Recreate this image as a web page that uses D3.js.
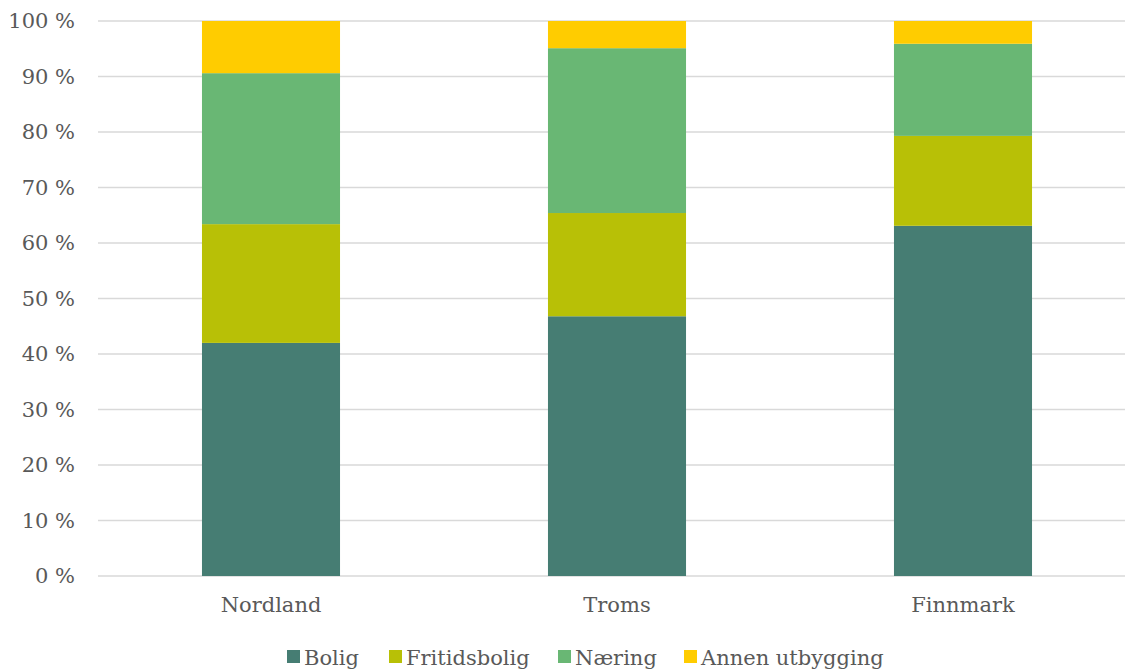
<!DOCTYPE html>
<html>
<head>
<meta charset="utf-8">
<script src="https://cdn.jsdelivr.net/npm/d3@7"></script>
<style>
  body { margin: 0; background: #fff; }
  text { font-family: "DejaVu Serif", Georgia, serif; fill: #595959; }
</style>
</head>
<body>
<svg id="chart" width="1125" height="672"></svg>
<script>
const regions = ["Nordland", "Troms", "Finnmark"];
const series = ["Bolig", "Fritidsbolig", "Næring", "Annen utbygging"];
const bolig = [42.0, 46.8, 63.1];
const fritidsbolig = [21.4, 18.6, 16.2];
const naering = [27.2, 29.7, 16.6];
const annen = [9.4, 4.9, 4.1];
const colors = ["#467d73", "#b8c006", "#69b774", "#ffcc00"];
const yTicks = [0, 10, 20, 30, 40, 50, 60, 70, 80, 90, 100];

const rows = regions.map((r, i) => ({
  region: r,
  "Bolig": bolig[i],
  "Fritidsbolig": fritidsbolig[i],
  "Næring": naering[i],
  "Annen utbygging": annen[i]
}));

const svg = d3.select("#chart");
const plotLeft = 98, plotRight = 1136, plotTop = 21, plotBottom = 576;

const x = d3.scaleBand()
  .domain(regions)
  .range([plotLeft, plotRight])
  .paddingInner(0.601)
  .paddingOuter(0.3005);

const y = d3.scaleLinear()
  .domain([0, 100])
  .range([plotBottom, plotTop]);

// gridlines
svg.append("g")
  .selectAll("line")
  .data(yTicks)
  .join("line")
  .attr("x1", plotLeft)
  .attr("x2", plotRight)
  .attr("y1", d => y(d))
  .attr("y2", d => y(d))
  .attr("stroke", "#d9d9d9")
  .attr("stroke-width", 1.5);

// y labels
svg.append("g")
  .selectAll("text")
  .data(yTicks)
  .join("text")
  .attr("x", 75)
  .attr("y", d => y(d))
  .attr("dy", "0.35em")
  .attr("text-anchor", "end")
  .attr("font-size", 21)
  .text(d => d + " %");

const stack = d3.stack().keys(series)(rows);

svg.append("g")
  .selectAll("g")
  .data(stack)
  .join("g")
  .attr("fill", (d, i) => colors[i])
  .selectAll("rect")
  .data(d => d)
  .join("rect")
  .attr("x", d => x(d.data.region))
  .attr("width", x.bandwidth())
  .attr("y", d => y(d[1]))
  .attr("height", d => y(d[0]) - y(d[1]));

// x labels
svg.append("g")
  .selectAll("text")
  .data(regions)
  .join("text")
  .attr("x", d => x(d) + x.bandwidth() / 2)
  .attr("y", 612)
  .attr("text-anchor", "middle")
  .attr("font-size", 21)
  .text(d => d);

// legend
const legendX = [287, 389, 558, 684];
const legend = svg.append("g")
  .selectAll("g")
  .data(series)
  .join("g")
  .attr("transform", (d, i) => "translate(" + legendX[i] + ",0)");

legend.append("rect")
  .attr("x", 0)
  .attr("y", 650)
  .attr("width", 13)
  .attr("height", 13)
  .attr("fill", (d, i) => colors[i]);

legend.append("text")
  .attr("x", 17)
  .attr("y", 665)
  .attr("font-size", 21)
  .text(d => d);
</script>
</body>
</html>
